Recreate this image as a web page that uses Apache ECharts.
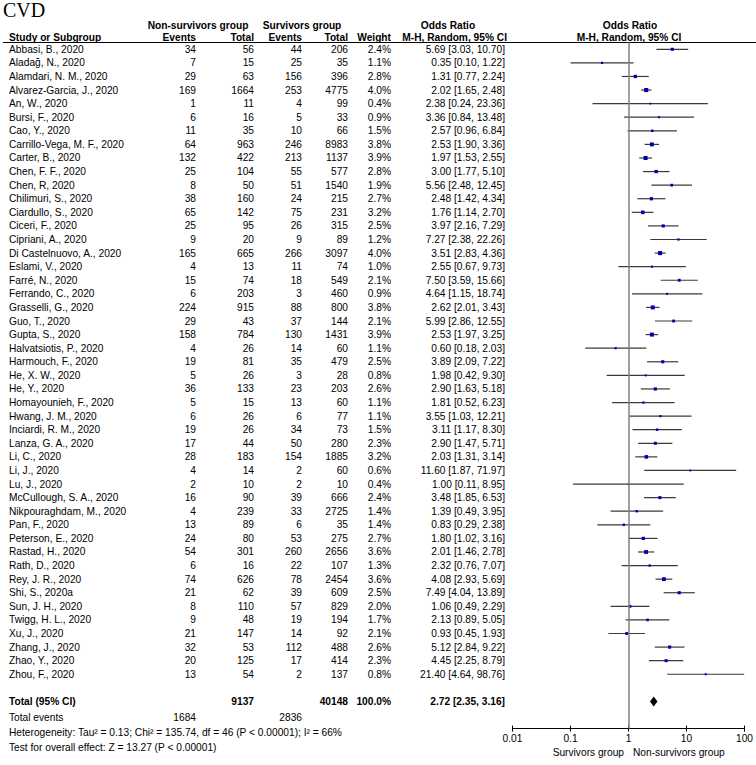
<!DOCTYPE html>
<html><head><meta charset="utf-8">
<script src="https://cdn.jsdelivr.net/npm/echarts@6/dist/echarts.min.js"></script>
<style>html,body{margin:0;padding:0;background:#fff}#c{width:756px;height:765px}</style>
</head><body><div id="c"></div>
<script>
const studies = ["Abbasi, B., 2020","Aladağ, N., 2020","Alamdari, N. M., 2020","Alvarez-Garcia, J., 2020","An, W., 2020","Bursi, F., 2020","Cao, Y., 2020","Carrillo-Vega, M. F., 2020","Carter, B., 2020","Chen, F. F., 2020","Chen, R, 2020","Chilimuri, S., 2020","Ciardullo, S., 2020","Ciceri, F., 2020","Cipriani, A., 2020","Di Castelnuovo, A., 2020","Eslami, V., 2020","Farré, N., 2020","Ferrando, C., 2020","Grasselli, G., 2020","Guo, T., 2020","Gupta, S., 2020","Halvatsiotis, P., 2020","Harmouch, F., 2020","He, X. W., 2020","He, Y., 2020","Homayounieh, F., 2020","Hwang, J. M., 2020","Inciardi, R. M., 2020","Lanza, G. A., 2020","Li, C., 2020","Li, J., 2020","Lu, J., 2020","McCullough, S. A., 2020","Nikpouraghdam, M., 2020","Pan, F., 2020","Peterson, E., 2020","Rastad, H., 2020","Rath, D., 2020","Rey, J. R., 2020","Shi, S., 2020a","Sun, J. H., 2020","Twigg, H. L., 2020","Xu, J., 2020","Zhang, J., 2020","Zhao, Y., 2020","Zhou, F., 2020"];
const eventsNS = [34,7,29,169,1,6,11,64,132,25,8,38,65,25,9,165,4,15,6,224,29,158,4,19,5,36,5,6,19,17,28,4,2,16,4,13,24,54,6,74,21,8,9,21,32,20,13];
const totalNS = [56,15,63,1664,11,16,35,963,422,104,50,160,142,95,20,665,13,74,203,915,43,784,26,81,26,133,15,26,26,44,183,14,10,90,239,89,80,301,16,626,62,110,48,147,53,125,54];
const eventsS = [44,25,156,253,4,5,10,246,213,55,51,24,75,26,9,266,11,18,3,88,37,130,14,35,3,23,13,6,34,50,154,2,2,39,33,6,53,260,22,78,39,57,19,14,112,17,2];
const totalS = [206,35,396,4775,99,33,66,8983,1137,577,1540,215,231,315,89,3097,74,549,460,800,144,1431,60,479,28,203,60,77,73,280,1885,60,10,666,2725,35,275,2656,107,2454,609,829,194,92,488,414,137];
const weights = [2.4,1.1,2.8,4.0,0.4,0.9,1.5,3.8,3.9,2.8,1.9,2.7,3.2,2.5,1.2,4.0,1.0,2.1,0.9,3.8,2.1,3.9,1.1,2.5,0.8,2.6,1.1,1.1,1.5,2.3,3.2,0.6,0.4,2.4,1.4,1.4,2.7,3.6,1.3,3.6,2.5,2.0,1.7,2.1,2.6,2.3,0.8];
const oddsRatio = [5.69,0.35,1.31,2.02,2.38,3.36,2.57,2.53,1.97,3.00,5.56,2.48,1.76,3.97,7.27,3.51,2.55,7.50,4.64,2.62,5.99,2.53,0.60,3.89,1.98,2.90,1.81,3.55,3.11,2.90,2.03,11.60,1.00,3.48,1.39,0.83,1.80,2.01,2.32,4.08,7.49,1.06,2.13,0.93,5.12,4.45,21.40];
const ciLow = [3.03,0.10,0.77,1.65,0.24,0.84,0.96,1.90,1.53,1.77,2.48,1.42,1.14,2.16,2.38,2.83,0.67,3.59,1.15,2.01,2.86,1.97,0.18,2.09,0.42,1.63,0.52,1.03,1.17,1.47,1.31,1.87,0.11,1.85,0.49,0.29,1.02,1.46,0.76,2.93,4.04,0.49,0.89,0.45,2.84,2.25,4.64];
const ciHigh = [10.70,1.22,2.24,2.48,23.36,13.48,6.84,3.36,2.55,5.10,12.45,4.34,2.70,7.29,22.26,4.36,9.73,15.66,18.74,3.43,12.55,3.25,2.03,7.22,9.30,5.18,6.23,12.21,8.30,5.71,3.14,71.97,8.95,6.53,3.95,2.38,3.16,2.78,7.07,5.69,13.89,2.29,5.05,1.93,9.22,8.79,98.76];
const pooled = [2.72, 2.35, 3.16];      // OR, lower, upper
const totalParticipants = [9137, 40148];
const totalEvents = [1684, 2836];
const totalWeight = 100.0;
const heterogeneityText = "Heterogeneity: Tau² = 0.13; Chi² = 135.74, df = 46 (P < 0.00001); I² = 66%";
const overallEffectText = "Test for overall effect: Z = 13.27 (P < 0.00001)";
const xMin = 0.01, xMax = 100;

const FONT = "'Liberation Sans', Arial, Helvetica, sans-serif";
const FS = 10.2;
const chart = echarts.init(document.getElementById('c'), null, {renderer: 'svg'});

function txt(x, y, text, align, bold, size, family) {
  const f = (bold ? 'bold ' : '') + (size || FS) + 'px ' + (family || FONT);
  return {type: 'text', x: x, y: y, silent: true,
    style: {text: String(text), font: f, fill: '#000', textAlign: align, align: align,
            textVerticalAlign: 'middle', verticalAlign: 'middle'}};
}
const fmt2 = v => v.toFixed(2);
const orText = (o, l, h) => fmt2(o) + ' [' + fmt2(l) + ', ' + fmt2(h) + ']';

const rows = studies.map((s, i) => [oddsRatio[i], ciLow[i], ciHigh[i], i, weights[i]]);
const totalRowIndex = studies.length + 1;

const graphics = [
  txt(3, 10, 'CVD', 'left', false, 20, "'Liberation Serif', 'Times New Roman', serif"),
  txt(198, 25, 'Non-survivors group', 'center', true),
  txt(302, 25, 'Survivors group', 'center', true),
  txt(448, 25, 'Odds Ratio', 'center', true),
  txt(630, 25, 'Odds Ratio', 'center', true),
  txt(9, 37, 'Study or Subgroup', 'left', true),
  txt(196, 37, 'Events', 'right', true),
  txt(254, 37, 'Total', 'right', true),
  txt(302, 37, 'Events', 'right', true),
  txt(348, 37, 'Total', 'right', true),
  txt(391, 37, 'Weight', 'right', true),
  txt(507, 37, 'M-H, Random, 95% CI', 'right', true),
  txt(629, 37, 'M-H, Random, 95% CI', 'center', true),
  {type: 'line', silent: true, shape: {x1: 3, y1: 42.5, x2: 756, y2: 42.5}, style: {stroke: '#000', lineWidth: 1}},
  txt(9, 717, 'Total events', 'left', false),
  txt(196, 717, totalEvents[0], 'right', false),
  txt(302, 717, totalEvents[1], 'right', false),
  txt(9, 732, heterogeneityText, 'left', false),
  txt(9, 747, overallEffectText, 'left', false),
  txt(624, 752, 'Survivors group', 'right', false),
  txt(633, 752, 'Non-survivors group', 'left', false)
];

const xAxisBase = {type: 'log', logBase: 10, min: xMin, max: xMax, gridIndex: 0, position: 'bottom',
  splitLine: {show: false}, minorTick: {show: false}};

const option = {
  animation: false,
  backgroundColor: '#fff',
  grid: {left: 512.5, right: 10.5, top: 42.5, bottom: 36.4, containLabel: false},
  xAxis: [
    Object.assign({}, xAxisBase, {
      axisLine: {show: true, onZero: false, lineStyle: {color: '#000', width: 1}},
      axisTick: {show: true, length: 3, inside: false, lineStyle: {color: '#000'}},
      axisLabel: {show: true, fontSize: FS, color: '#000', margin: 5, fontFamily: FONT,
        formatter: v => String(+v.toPrecision(6))}
    }),
    Object.assign({}, xAxisBase, {
      axisLine: {show: false, onZero: false},
      axisTick: {show: true, length: 3, inside: true, lineStyle: {color: '#000'}},
      axisLabel: {show: false}
    })
  ],
  yAxis: {type: 'value', inverse: true, min: -0.5, max: 50, show: false,
    axisLine: {show: false}, splitLine: {show: false}},
  graphic: graphics,
  series: [
    {
      type: 'custom', name: 'table', xAxisIndex: 0, z: 1, silent: true,
      encode: {x: [0, 1, 2], y: 3},
      data: rows,
      renderItem: function (params, api) {
        const i = api.value(3);
        const y = api.coord([1, i])[1];
        return {type: 'group', children: [
          txt(9, y, studies[i], 'left'),
          txt(196, y, eventsNS[i], 'right'),
          txt(254, y, totalNS[i], 'right'),
          txt(302, y, eventsS[i], 'right'),
          txt(348, y, totalS[i], 'right'),
          txt(391, y, weights[i].toFixed(1) + '%', 'right'),
          txt(505, y, orText(oddsRatio[i], ciLow[i], ciHigh[i]), 'right')
        ]};
      },
      markLine: {silent: true, symbol: ['none', 'none'], label: {show: false},
        lineStyle: {color: '#808080', width: 1.5, type: 'solid'},
        data: [{xAxis: 1}]}
    },
    {
      type: 'custom', name: 'studies', xAxisIndex: 0, z: 3, silent: true,
      encode: {x: [0, 1, 2], y: 3},
      data: rows,
      renderItem: function (params, api) {
        const i = api.value(3);
        const c = api.coord([api.value(0), i]);
        const a = api.coord([api.value(1), i]);
        const b = api.coord([api.value(2), i]);
        const s = 1.5 + api.value(4) * 0.65;
        return {type: 'group', children: [
          {type: 'line', shape: {x1: a[0], y1: a[1], x2: b[0], y2: b[1]}, style: {stroke: '#3a3a3a', lineWidth: 1.2}},
          {type: 'rect', shape: {x: c[0] - s / 2, y: c[1] - s / 2, width: s, height: s}, style: {fill: '#0000b8'}}
        ]};
      }
    },
    {
      type: 'custom', name: 'pooled', xAxisIndex: 0, z: 3, silent: true,
      encode: {x: [0, 1, 2], y: 3},
      data: [[pooled[0], pooled[1], pooled[2], totalRowIndex]],
      renderItem: function (params, api) {
        const i = api.value(3);
        const c = api.coord([api.value(0), i]);
        const a = api.coord([api.value(1), i]);
        const b = api.coord([api.value(2), i]);
        const y = c[1];
        return {type: 'group', children: [
          txt(9, y, 'Total (95% CI)', 'left', true),
          txt(254, y, totalParticipants[0], 'right', true),
          txt(348, y, totalParticipants[1], 'right', true),
          txt(391, y, totalWeight.toFixed(1) + '%', 'right', true),
          txt(505, y, orText(pooled[0], pooled[1], pooled[2]), 'right', true),
          {type: 'polygon', shape: {points: [[a[0], y], [c[0], y - 5], [b[0], y], [c[0], y + 5]]},
            style: {fill: '#000'}}
        ]};
      }
    }
  ]
};
chart.setOption(option);
</script>
</body></html>
